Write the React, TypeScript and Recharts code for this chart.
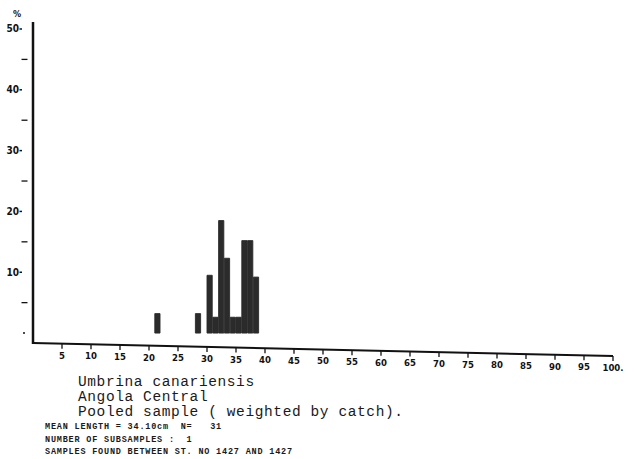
import { BarChart, Bar, XAxis, YAxis, ReferenceLine } from 'recharts';

// length classes (cm, lower edge) and percentage per class
const binStart = [21, 28, 30, 31, 32, 33, 34, 35, 36, 37, 38];
const percent = [3.2, 3.2, 9.5, 2.6, 18.5, 12.3, 2.6, 2.6, 15.2, 15.2, 9.2];

const xTicks = [5, 10, 15, 20, 25, 30, 35, 40, 45, 50, 55, 60, 65, 70, 75, 80, 85, 90, 95, 100];
const yTicks = [0, 5, 10, 15, 20, 25, 30, 35, 40, 45, 50];

const titleLines = ['Umbrina canariensis', 'Angola Central', 'Pooled sample ( weighted by catch).'];
const infoLines = [
  'MEAN LENGTH = 34.10cm  N=   31',
  'NUMBER OF SUBSAMPLES :  1',
  'SAMPLES FOUND BETWEEN ST. NO 1427 AND 1427',
];
const infoBaselines = [428.5, 441.5, 454];

const data = binStart.map((s, i) => ({ length: s + 0.5, pct: percent[i] }));

const tickFont = "'Liberation Sans Narrow', 'DejaVu Sans Condensed', sans-serif";

// x axis is printed slightly slanted on the original plot
const XTick = (props: any) => {
  const { x, payload } = props;
  const base = 343 + (x - 33) * 0.0224;
  const label = payload.value === 100 ? '100.' : String(payload.value);
  return (
    <g>
      <line x1={x} y1={base} x2={x} y2={base + 5} stroke="#111" strokeWidth={1.3} />
      <text x={x} y={base + 15} textAnchor="middle" fontSize={9.5} fontWeight="bold" fontFamily={tickFont} fill="#111">
        {label}
      </text>
    </g>
  );
};

const YTick = (props: any) => {
  const { x, y, payload } = props;
  const v = payload.value;
  if (v === 0) {
    return <line x1={x - 8} y1={y} x2={x - 6} y2={y} stroke="#111" strokeWidth={1.5} />;
  }
  if (v % 10 === 0) {
    return (
      <g>
        <text x={x - 12} y={y + 3.5} textAnchor="end" fontSize={10} fontWeight="bold" fontFamily={tickFont} fill="#111">
          {v}
        </text>
        <line x1={x - 11.5} y1={y} x2={x - 9} y2={y} stroke="#111" strokeWidth={1.5} />
      </g>
    );
  }
  return <line x1={x - 9.5} y1={y} x2={x - 3.5} y2={y} stroke="#111" strokeWidth={1.3} />;
};

export default function App() {
  return (
    <div style={{ position: 'absolute', left: 0, top: 0, width: 640, height: 459, background: '#fff' }}>
      <BarChart width={640} height={459} data={data} margin={{ top: 22, right: 27, bottom: 85, left: 0 }}>
        <XAxis
          type="number"
          dataKey="length"
          domain={[0, 100]}
          ticks={xTicks}
          interval={0}
          allowDataOverflow
          axisLine={false}
          tickLine={false}
          height={30}
          tick={<XTick />}
        />
        <YAxis
          type="number"
          domain={[-1.8, 51.15]}
          ticks={yTicks}
          interval={0}
          allowDataOverflow
          width={33}
          axisLine={{ stroke: '#111', strokeWidth: 2.5 }}
          tickLine={false}
          tickSize={0}
          tick={<YTick />}
        />
        <ReferenceLine
          segment={[{ x: 0, y: -1.64 }, { x: 100, y: -3.78 }]}
          stroke="#111"
          strokeWidth={2}
          ifOverflow="visible"
        />
        <Bar dataKey="pct" fill="#2b2b2b" stroke="#2b2b2b" strokeWidth={0.9} barSize={5.8} isAnimationActive={false} />
      </BarChart>
      <svg width={640} height={459} style={{ position: 'absolute', left: 0, top: 0, pointerEvents: 'none' }}>
        <text x={17} y={17} textAnchor="middle" fontSize={9} fontWeight="bold" fontFamily={tickFont} fill="#111">%</text>
        {titleLines.map((t, i) => (
          <text key={t} x={78} y={386 + i * 15} fontSize={14.5} fontFamily="'Liberation Mono', monospace" fill="#1a1a1a"
            letterSpacing={0.6} style={{ whiteSpace: 'pre' }}>
            {t}
          </text>
        ))}
        {infoLines.map((t, i) => (
          <text key={t} x={45} y={infoBaselines[i]} fontSize={8.5} fontWeight="bold" fontFamily="'Liberation Mono', monospace"
            fill="#1a1a1a" letterSpacing={0.8} style={{ whiteSpace: 'pre' }}>
            {t}
          </text>
        ))}
      </svg>
    </div>
  );
}
